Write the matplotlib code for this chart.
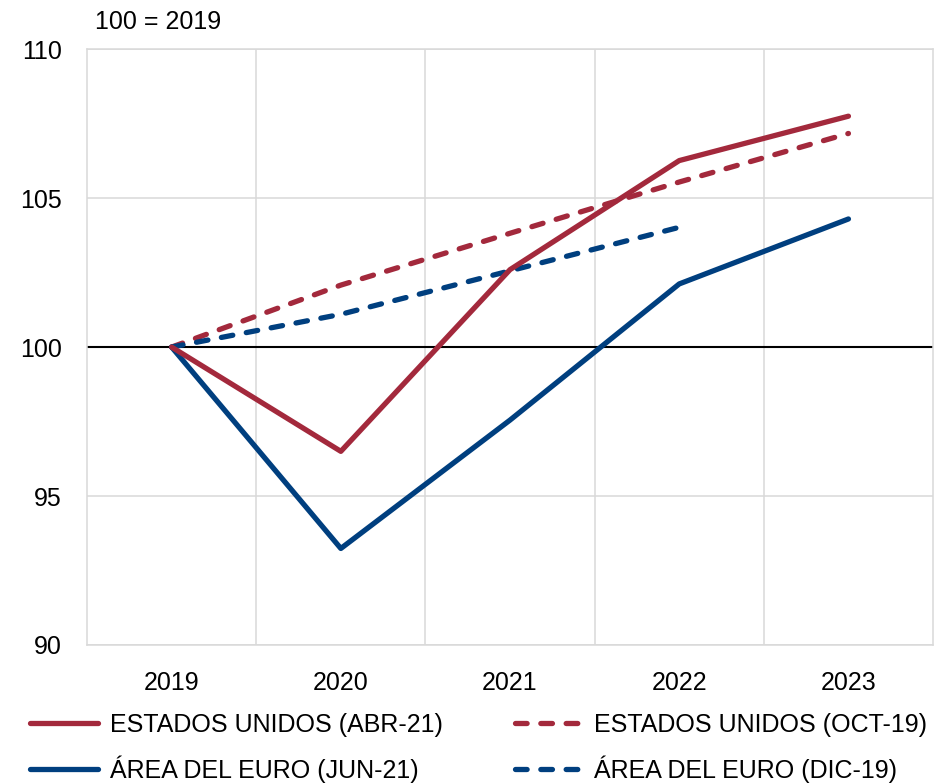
import matplotlib.pyplot as plt
from matplotlib.lines import Line2D

plt.rcParams['font.family'] = ['Liberation Sans', 'DejaVu Sans']

years = ['2019', '2020', '2021', '2022', '2023']
eeuu_abr21 = [100, 96.5, 102.6, 106.26, 107.75]
eeuu_oct19 = [100, 102.08, 103.82, 105.54, 107.17]
euro_jun21 = [100, 93.24, 97.55, 102.12, 104.3]
euro_dic19 = [100, 101.1, 102.56, 104.02]

red = '#A3293C'
blue = '#003F7F'
grey = '#D9D9D9'

fig = plt.figure(figsize=(9.4, 7.84), dpi=100)
ax = fig.add_axes([0.0926, 0.1773, 0.9, 0.76])

x = list(range(len(years)))
ax.axhline(100, color='black', lw=1.5, zorder=2)

dash = dict(linestyle=(0, (2.2, 2.6)), dash_capstyle='round')
ax.plot(x, eeuu_oct19, color=red, lw=3.8, zorder=3, **dash)
ax.plot(x[:len(euro_dic19)], euro_dic19, color=blue, lw=3.8, zorder=3, **dash)
ax.plot(x, euro_jun21, color=blue, lw=3.8, solid_capstyle='round', zorder=4)
ax.plot(x, eeuu_abr21, color=red, lw=3.8, solid_capstyle='round', zorder=4)

ax.set_xlim(-0.5, 4.5)
ax.set_ylim(90, 110)
ax.set_yticks([90, 95, 100, 105, 110])
ax.set_xticks(x)
ax.set_xticklabels(years)
ax.set_xticks([0.5, 1.5, 2.5, 3.5], minor=True)
ax.grid(axis='x', which='minor', color=grey, lw=1.1)
ax.grid(axis='y', which='major', color=grey, lw=1.1)
ax.set_axisbelow(True)
ax.tick_params(axis='both', which='both', length=0, labelsize=18)
ax.tick_params(axis='y', pad=18)
ax.tick_params(axis='x', pad=18.5)
for s in ax.spines.values():
    s.set_color(grey)
    s.set_linewidth(1.1)

fig.text(0.101, 0.972, '100 = 2019', fontsize=18, ha='left', va='center')

handles = [
    Line2D([], [], color=red, lw=3.8, solid_capstyle='round'),
    Line2D([], [], color=blue, lw=3.8, solid_capstyle='round'),
    Line2D([], [], color=red, lw=3.8, **dash),
    Line2D([], [], color=blue, lw=3.8, **dash),
]
labels = ['ESTADOS UNIDOS (ABR-21)', 'ÁREA DEL EURO (JUN-21)',
          'ESTADOS UNIDOS (OCT-19)', 'ÁREA DEL EURO (DIC-19)']
fig.legend(handles, labels, ncol=2, loc='upper left', bbox_to_anchor=(0.0214, 0.103),
           frameon=False, handlelength=2.7, handletextpad=0.48, columnspacing=2.9,
           labelspacing=0.72, borderaxespad=0, prop={'size': 18})

fig.savefig('out.png', dpi=100)
